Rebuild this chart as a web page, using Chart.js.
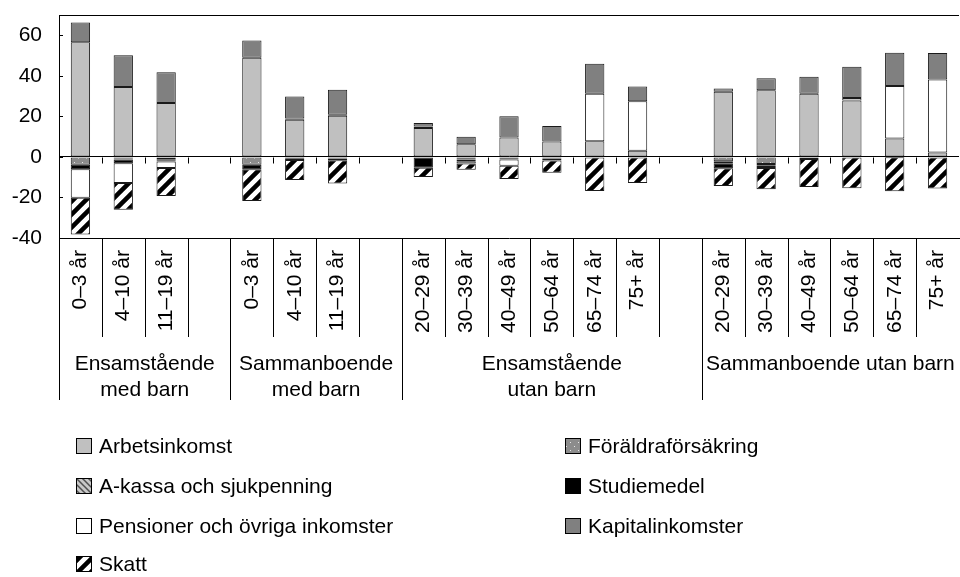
<!DOCTYPE html>
<html>
<head>
<meta charset="utf-8">
<script src="https://cdn.jsdelivr.net/npm/chart.js@4.4.1/dist/chart.umd.min.js"></script>
<style>
  html, body { margin: 0; padding: 0; background: #fff; }
</style>
</head>
<body>
<canvas id="myChart" width="960" height="577"></canvas>
<script>
// Category labels (empty slots are the gaps between the groups)
const ageLabels = [
    '0–3 år', '4–10 år', '11–19 år', '',
    '0–3 år', '4–10 år', '11–19 år', '',
    '20–29 år', '30–39 år', '40–49 år', '50–64 år', '65–74 år', '75+ år', '',
    '20–29 år', '30–39 år', '40–49 år', '50–64 år', '65–74 år', '75+ år'
];
const groupLabels = [
    ['Ensamstående', 'med barn'],
    ['Sammanboende', 'med barn'],
    ['Ensamstående', 'utan barn'],
    ['Sammanboende utan barn']
];
const groupSizes = [4, 4, 7, 6];
const yTicks = [-40, -20, 0, 20, 40, 60];

// Series values
const arbetsinkomst = [56.5, 34.5, 26.6, null, 48.9, 18.3, 20.3, null, 14.2, 6.3, 9.6, 7.6, 7.7, 3.0, null, 32.1, 32.9, 31.1, 27.8, 9.1, 2.2];
const foraldraforsakring = [-3.9, -0.8, -1.2, null, -3.9, -0.7, -0.5, null, -0.3, -0.6, -0.6, -0.3, -0.3, 0, null, -2.1, -3.5, -1.0, -0.3, -0.2, 0];
const akassa = [0, -0.5, -0.5, null, 0, 0.7, 0.5, null, 0.8, -0.7, 0, 0, 0, 0, null, -1.0, -0.6, 0, 0, 0, 0];
const studiemedel = [-2.2, -1.8, -0.6, null, -2.2, -0.8, -0.3, null, -5.0, -0.8, -0.7, -0.5, 0, 0, null, -2.5, -0.9, 0, 0, 0, 0];
const pensioner = [-14.1, -9.8, -3.2, null, 0, 0, -0.9, null, 0, -1.2, -3.0, -1.0, 23.4, 24.4, null, 0, -0.5, 0, 1.2, 25.9, 36.0];
const kapitalinkomster = [9.8, 15.6, 15.1, null, 8.5, 10.8, 12.3, null, 1.7, 3.6, 10.4, 7.6, 14.9, 7.3, null, 1.6, 5.9, 8.4, 15.5, 16.4, 13.0];
const skatt = [-18.1, -13.2, -13.8, null, -15.7, -9.9, -11.4, null, -4.6, -3.0, -6.6, -6.0, -16.5, -12.9, null, -8.7, -10.5, -13.8, -15.2, -16.7, -15.6];

const FONT = '"Liberation Sans", Arial, sans-serif';

// Fill patterns
function makePattern(size, draw) {
    var c = document.createElement('canvas');
    c.width = size;
    c.height = size;
    draw(c.getContext('2d'), size);
    return c.getContext('2d').createPattern(c, 'repeat');
}

var skattFill = makePattern(13, function (g, s) {
    g.fillStyle = '#fff';
    g.fillRect(0, 0, s, s);
    g.strokeStyle = '#000';
    g.lineWidth = 4.5;
    g.beginPath();
    g.moveTo(-1, s + 1); g.lineTo(s + 1, -1);
    g.moveTo(-s / 2 - 1, s / 2 + 1); g.lineTo(s / 2 + 1, -s / 2 - 1);
    g.moveTo(s / 2 - 1, s * 1.5 + 1); g.lineTo(s * 1.5 + 1, s / 2 - 1);
    g.moveTo(-s - 1, s + 1); g.lineTo(1, -1);
    g.moveTo(s - 1, 2 * s + 1); g.lineTo(2 * s + 1, s - 1);
    g.stroke();
});

var akassaFill = makePattern(6, function (g, s) {
    g.fillStyle = '#c8c8c8';
    g.fillRect(0, 0, s, s);
    g.strokeStyle = '#505050';
    g.lineWidth = 1.5;
    g.beginPath();
    g.moveTo(-1, -1); g.lineTo(s + 1, s + 1);
    g.moveTo(-1, s - 1); g.lineTo(1, s + 1);
    g.moveTo(s - 1, -1); g.lineTo(s + 1, 1);
    g.stroke();
});

var foraldraFill = makePattern(8, function (g, s) {
    g.fillStyle = '#8c8c8c';
    g.fillRect(0, 0, s, s);
    g.fillStyle = '#e8e8e8';
    g.fillRect(2, 2, 1, 1);
    g.fillRect(6, 6, 1, 1);
});

function makeDataset(label, data, fill) {
    return {
        label: label,
        data: data,
        backgroundColor: fill,
        borderColor: '#1a1a1a',
        // no outline for empty (zero) segments
        borderWidth: function (c) { return c.raw ? 1 : 0; },
        borderSkipped: false,
        barPercentage: 0.45,
        categoryPercentage: 1.0,
        stack: 'a'
    };
}

// Frame, separators, group labels and tick marks
const framePlugin = {
    id: 'frame',
    afterDraw: function (chart) {
        const ctx = chart.ctx;
        const area = chart.chartArea;
        const xs = chart.scales.x;
        const ys = chart.scales.y;
        const y0 = Math.round(ys.getPixelForValue(0)) + 0.5;
        const n = ageLabels.length;

        ctx.save();
        ctx.strokeStyle = '#000';
        ctx.lineWidth = 1;
        ctx.beginPath();
        // top border
        ctx.moveTo(area.left, area.top + 0.5);
        ctx.lineTo(area.right, area.top + 0.5);
        // left axis continues down under the labels
        ctx.moveTo(area.left + 0.5, area.bottom);
        ctx.lineTo(area.left + 0.5, 400);

        // group boundaries
        var bounds = [];
        var acc = 0;
        for (var g = 0; g < groupSizes.length; g++) {
            acc += groupSizes[g];
            bounds.push(acc);
        }

        for (var b = 1; b < n; b++) {
            var x = Math.round(xs.getPixelForValue(b - 0.5)) + 0.5;
            var isGroup = bounds.indexOf(b) >= 0;
            ctx.moveTo(x, area.bottom);
            ctx.lineTo(x, isGroup ? 400 : 337);
            // small tick marks on the zero line
            ctx.moveTo(x, y0);
            ctx.lineTo(x, y0 + 6);
        }

        // inward y ticks
        ys.ticks.forEach(function (t) {
            var yy = Math.round(ys.getPixelForValue(t.value)) + 0.5;
            ctx.moveTo(area.left, yy);
            ctx.lineTo(area.left + 4, yy);
        });
        ctx.stroke();

        // group labels
        ctx.fillStyle = '#000';
        ctx.font = '21px ' + FONT;
        ctx.textAlign = 'center';
        ctx.textBaseline = 'middle';
        var start = 0;
        for (var k = 0; k < groupSizes.length; k++) {
            var left = xs.getPixelForValue(start - 0.5);
            var right = xs.getPixelForValue(start + groupSizes[k] - 0.5);
            var cx = (left + right) / 2;
            groupLabels[k].forEach(function (line, j) {
                ctx.fillText(line, cx, 364 + j * 26);
            });
            start += groupSizes[k];
        }
        ctx.restore();
    }
};

// Legend in two columns, drawn under the chart
const legendPlugin = {
    id: 'twoColLegend',
    afterDraw: function (chart) {
        const ctx = chart.ctx;
        const colX = [76, 565];
        const rowY = [446, 486, 526, 564];
        ctx.save();
        ctx.font = '21px ' + FONT;
        ctx.textAlign = 'left';
        ctx.textBaseline = 'middle';
        chart.data.datasets.forEach(function (ds, i) {
            var x = colX[i % 2];
            var y = rowY[Math.floor(i / 2)];
            ctx.fillStyle = ds.backgroundColor;
            ctx.fillRect(x, y - 8, 16, 16);
            ctx.strokeStyle = '#000';
            ctx.lineWidth = 1;
            ctx.strokeRect(x + 0.5, y - 7.5, 15, 15);
            ctx.fillStyle = '#000';
            ctx.fillText(ds.label, x + 23, y + 1);
        });
        ctx.restore();
    }
};

var myChart;

function drawChart() {
    const ctx = document.getElementById('myChart');
    myChart = new Chart(ctx, {
        type: 'bar',
        data: {
            labels: ageLabels,
            datasets: [
                makeDataset('Arbetsinkomst', arbetsinkomst, '#c0c0c0'),
                makeDataset('Föräldraförsäkring', foraldraforsakring, foraldraFill),
                makeDataset('A-kassa och sjukpenning', akassa, akassaFill),
                makeDataset('Studiemedel', studiemedel, '#000'),
                makeDataset('Pensioner och övriga inkomster', pensioner, '#fff'),
                makeDataset('Kapitalinkomster', kapitalinkomster, '#808080'),
                makeDataset('Skatt', skatt, skattFill)
            ]
        },
        options: {
            responsive: false,
            animation: false,
            layout: { padding: { top: 15, right: 1, left: 0, bottom: 0 } },
            plugins: {
                legend: { display: false },
                tooltip: { enabled: false }
            },
            scales: {
                x: {
                    stacked: true,
                    offset: true,
                    grid: { display: false, drawTicks: false },
                    border: { display: true, color: '#000', width: 1 },
                    ticks: {
                        autoSkip: false,
                        minRotation: 90,
                        maxRotation: 90,
                        padding: 12,
                        color: '#000',
                        font: { family: FONT, size: 21 }
                    },
                    afterFit: function (scale) {
                        scale.height = 339;
                        scale.paddingLeft = 0;
                        scale.paddingRight = 0;
                    }
                },
                y: {
                    stacked: true,
                    min: -40,
                    max: 70,
                    afterBuildTicks: function (scale) {
                        scale.ticks = yTicks.map(function (v) { return { value: v }; });
                    },
                    grid: {
                        drawTicks: false,
                        color: function (c) { return c.tick && c.tick.value === 0 ? '#000' : 'rgba(0,0,0,0)'; }
                    },
                    border: { display: true, color: '#000', width: 1 },
                    ticks: {
                        padding: 17,
                        color: '#000',
                        font: { family: FONT, size: 21 }
                    },
                    afterFit: function (scale) {
                        scale.width = 59;
                        scale.paddingTop = 0;
                        scale.paddingBottom = 0;
                    }
                }
            }
        },
        plugins: [framePlugin, legendPlugin]
    });
}

drawChart();
</script>
</body>
</html>
